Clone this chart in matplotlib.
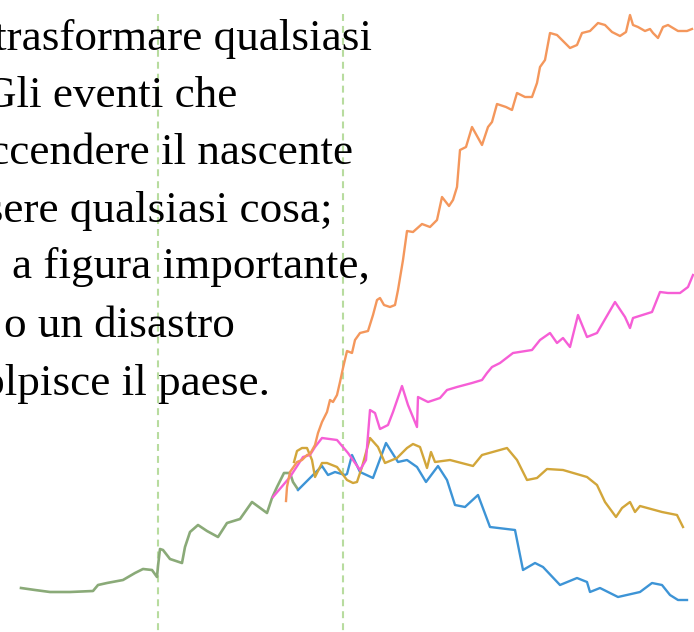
import matplotlib
matplotlib.use('Agg')
import matplotlib.pyplot as plt

# positions in pixels (x from left, y from top)
green_x = [21, 35, 50, 70, 93, 98, 107, 123, 135, 143, 152, 157, 158, 160, 163, 170, 182, 185, 190, 198,
           207, 218, 227, 240, 252, 267, 272, 277, 284, 290, 293, 297]
green_y = [588, 590, 592, 592, 591, 585, 583, 580, 573, 569, 570, 577, 566, 549, 550, 559, 563, 547, 532, 525,
           531, 537, 523, 519, 502, 513, 498, 487, 473, 473, 482, 488]

blue_x = [298, 322, 328, 335, 345, 347, 352, 360, 373, 386, 398, 407, 417, 426, 438, 447, 455, 465, 478, 490,
          515, 523, 535, 543, 560, 577, 587, 590, 600, 618, 640, 652, 662, 670, 678, 687]
blue_y = [490, 466, 475, 472, 475, 474, 455, 472, 478, 443, 462, 460, 467, 482, 466, 480, 505, 507, 495, 527,
          530, 570, 563, 567, 585, 578, 582, 592, 588, 597, 592, 583, 585, 595, 600, 600]

gold_x = [294, 297, 302, 307, 312, 315, 322, 327, 337, 347, 353, 357, 362, 370, 378, 385, 397, 407, 413, 420,
          427, 431, 435, 450, 473, 482, 507, 517, 527, 537, 547, 563, 587, 597, 605, 616, 622, 630, 635, 640,
          662, 677, 683]
gold_y = [462, 451, 448, 448, 460, 477, 463, 463, 467, 480, 483, 482, 467, 438, 447, 463, 458, 448, 444, 447,
          468, 452, 462, 460, 466, 455, 448, 460, 480, 478, 469, 470, 477, 485, 502, 517, 508, 502, 512, 506,
          512, 515, 527]

pink_x = [273, 290, 303, 310, 315, 322, 337, 348, 360, 366, 370, 375, 380, 388, 393, 402, 408, 417, 418, 428,
          440, 447, 457, 472, 482, 487, 492, 500, 513, 532, 540, 550, 557, 563, 570, 578, 587, 597, 615, 625,
          630, 633, 652, 660, 668, 680, 688, 693]
pink_y = [497, 477, 457, 455, 447, 438, 440, 453, 470, 460, 410, 413, 429, 425, 412, 386, 405, 427, 397, 402,
          398, 390, 387, 383, 380, 373, 367, 363, 353, 350, 340, 333, 343, 338, 347, 315, 337, 333, 302, 317,
          328, 318, 312, 292, 293, 293, 287, 275]

orange_x = [286, 287, 290, 297, 302, 307, 310, 315, 318, 322, 327, 330, 333, 337, 340, 343, 347, 352, 355, 360,
            368, 373, 377, 380, 384, 390, 395, 398, 403, 407, 413, 422, 430, 437, 442, 449, 453, 457, 460, 466,
            472, 482, 488, 492, 497, 506, 512, 517, 525, 532, 537, 540, 545, 550, 557, 570, 577, 582, 590, 598,
            605, 612, 620, 626, 630, 633, 638, 645, 650, 653, 658, 663, 668, 678, 687, 692]
orange_y = [501, 487, 472, 462, 460, 455, 454, 445, 433, 422, 412, 400, 402, 395, 382, 368, 351, 353, 340, 333,
            331, 315, 300, 298, 305, 307, 305, 290, 260, 231, 232, 224, 227, 220, 197, 206, 200, 187, 150, 147,
            127, 145, 127, 122, 104, 107, 110, 93, 97, 97, 83, 67, 60, 33, 35, 48, 45, 33, 31, 23,
            25, 32, 36, 32, 15, 25, 27, 31, 29, 33, 38, 27, 25, 31, 31, 29]

event_x = [158, 343]

text_lines = ["trasformare qualsiasi", "Gli eventi che", "accendere il nascente", "essere qualsiasi cosa;",
              "a figura importante,", "o un disastro", "colpisce il paese."]
text_right = [372, 237, 353, 333, 370, 235, 270]
text_base = [50, 107, 164, 222, 278, 337, 395]

plt.rcParams['lines.scale_dashes'] = False

fig = plt.figure(figsize=(6.94, 6.32), dpi=100)
ax = fig.add_axes([0, 0, 1, 1])
ax.set_xlim(0, 694)
ax.set_ylim(632, 0)
ax.axis('off')

for x in event_x:
    ax.plot([x, x], [14, 632], color='#b8dc9f', lw=1.5, dashes=(5, 3.6))

for s, xr, yb in zip(text_lines, text_right, text_base):
    ax.text(xr, yb, s, ha='right', va='baseline', fontsize=32.5, family='Liberation Serif', color='#000000')

ax.plot(green_x, green_y, color='#8aaa78', lw=1.9)
ax.plot(blue_x, blue_y, color='#3d94d6', lw=1.7)
ax.plot(gold_x, gold_y, color='#d2a63a', lw=1.7)
ax.plot(pink_x, pink_y, color='#f65ed6', lw=1.7)
ax.plot(orange_x, orange_y, color='#f4975c', lw=1.7)

fig.savefig('out.png', dpi=100)
